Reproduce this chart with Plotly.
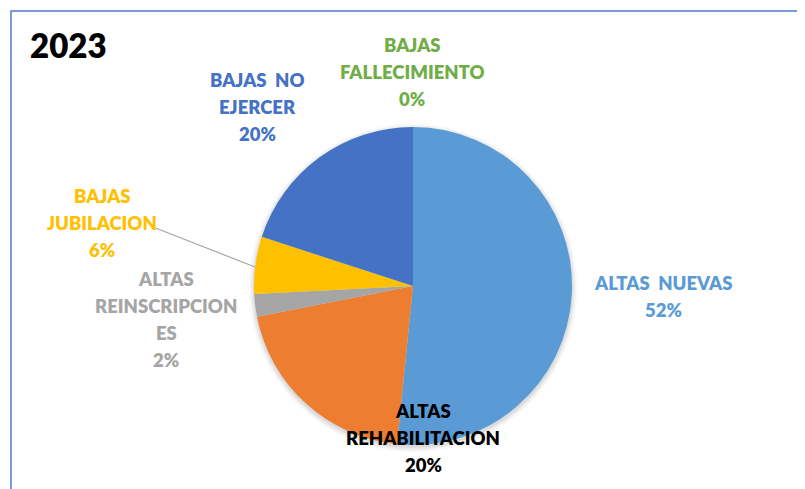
import plotly.graph_objects as go

# ---- data ----
categories = ["ALTAS  NUEVAS", "ALTAS REHABILITACION", "ALTAS REINSCRIPCIONES",
              "BAJAS JUBILACION", "BAJAS  NO EJERCER", "BAJAS FALLECIMIENTO"]
label_lines = [["ALTAS  NUEVAS"], ["ALTAS", "REHABILITACION"], ["ALTAS", "REINSCRIPCION", "ES"],
               ["BAJAS", "JUBILACION"], ["BAJAS  NO", "EJERCER"], ["BAJAS", "FALLECIMIENTO"]]
values = [51.6, 20.3, 2.3, 5.8, 20.0, 0.0]
title_text = "2023"

slice_colors = ["#5B9BD5", "#ED7D31", "#A5A5A5", "#FFC000", "#4472C4", "#70AD47"]
label_colors = ["#5B9BD5", "#000000", "#A5A5A5", "#FFC000", "#4472C4", "#70AD47"]
# label centers in pixels (x from left, y from top) as seen in the page
label_pos = [(663, 296), (423, 438), (166, 319), (102, 223), (257, 107), (412, 72)]

W, H = 805, 489
OFF = 8  # page body margin offsets the figure
cx, cy, r = 413, 286, 159
LINE = 27


def px(x):
    return (x - OFF) / W


def py(y):
    return 1 - (y - OFF) / H


total = sum(values)
pct = [round(v / total * 100) for v in values]

fig = go.Figure()
fig.add_trace(go.Pie(
    labels=categories, values=values, sort=False, direction="clockwise",
    rotation=0, marker=dict(colors=slice_colors, line=dict(width=0)),
    textinfo="none", hoverinfo="label+percent", showlegend=False,
    domain=dict(x=[px(cx - r), px(cx + r)], y=[py(cy + r), py(cy - r)]),
))

font_family = "Lato, 'Open Sans', sans-serif"
annotations = []
for lines, p, col, (lx, ly) in zip(label_lines, pct, label_colors, label_pos):
    all_lines = lines + [f"{p}%"]
    n = len(all_lines)
    for i, t in enumerate(all_lines):
        yy = ly + (i - (n - 1) / 2) * LINE
        annotations.append(dict(
            x=px(lx), y=py(yy), xref="paper", yref="paper",
            text=t, showarrow=False,
            font=dict(family=font_family, size=18.5, color=col, weight=800),
            xanchor="center", yanchor="middle", align="center"))
annotations.append(dict(
    x=px(28), y=py(45), xref="paper", yref="paper", text=title_text,
    showarrow=False, font=dict(family=font_family, size=33, color="#000000", weight=800),
    xanchor="left", yanchor="middle"))

shapes = []
# soft shadow behind pie
for i, op in enumerate([0.05, 0.04, 0.03, 0.02]):
    rr = r + 1 + i * 1.5
    shapes.append(dict(type="circle", xref="paper", yref="paper", layer="below",
                       x0=px(cx - rr), x1=px(cx + rr),
                       y0=py(cy + 2 + rr), y1=py(cy + 2 - rr),
                       fillcolor=f"rgba(0,0,0,{op})", line=dict(width=0)))
# leader line
shapes.append(dict(type="line", xref="paper", yref="paper",
                   x0=px(153), y0=py(227), x1=px(255), y1=py(267),
                   line=dict(color="#A6A6A6", width=1.2)))
# chart border
shapes.append(dict(type="rect", xref="paper", yref="paper",
                   x0=px(11), x1=1.05, y0=-0.05, y1=py(11),
                   line=dict(color="#4A7EC6", width=1.5)))

fig.update_layout(
    width=W, height=H, margin=dict(l=0, r=0, t=0, b=0),
    paper_bgcolor="white", plot_bgcolor="white",
    annotations=annotations, shapes=shapes,
)
fig.write_html("out.html")
